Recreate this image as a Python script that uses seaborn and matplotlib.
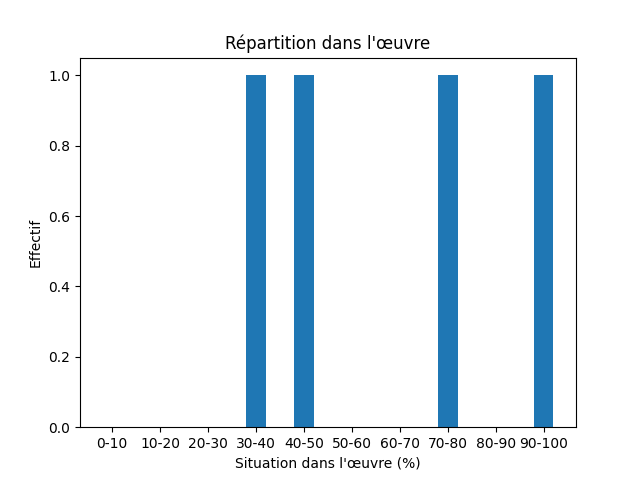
import matplotlib
matplotlib.use("Agg")
import matplotlib.pyplot as plt
import seaborn as sns

categories = ["0-10", "10-20", "20-30", "30-40", "40-50", "50-60", "60-70", "70-80", "80-90", "90-100"]
counts = [0, 0, 0, 1, 1, 0, 0, 1, 0, 1]

fig, ax = plt.subplots(figsize=(6.4, 4.8), dpi=100)
sns.barplot(x=categories, y=counts, width=0.4, color="#1f77b4", saturation=1, ax=ax)
ax.set_xlim(-0.67, len(categories) - 0.33)
ax.set_ylim(0, 1.05)
ax.set_title("Répartition dans l'œuvre")
ax.set_xlabel("Situation dans l'œuvre (%)")
ax.set_ylabel("Effectif")
fig.savefig("out.png")
